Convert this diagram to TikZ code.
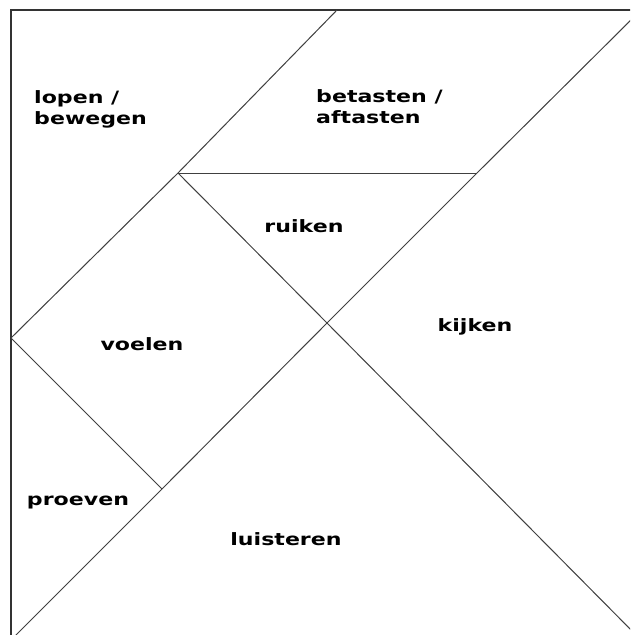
\documentclass[tikz,border=0pt]{standalone}
\usepackage{fontspec}
\usepackage{xcolor}
\usepackage{tikz}
\newfontfamily\blokfont[FakeStretch=1.3]{DejaVu Sans}

\tikzset{
    rand/.style={line width=1.7pt, black!80},
    snede/.style={line width=1pt, black!75},
    zintuig/.style={font=\blokfont\bfseries\fontsize{17}{21}\selectfont, inner sep=0pt, align=left}
}

\begin{document}
\begin{tikzpicture}[x=1pt, y=-1pt]

    % Frame of the picture
    \clip (0,0) rectangle (630,635);
    \fill[white] (0,0) rectangle (630,635);

    % Key points of the square
    \coordinate (lb) at (11,10);     % top left
    \coordinate (rb) at (641,10);    % top right
    \coordinate (lo) at (11,640);    % bottom left
    \coordinate (ro) at (641,640);   % bottom right
    \coordinate (top) at (337,10);
    \coordinate (links) at (11,338);
    \coordinate (kl) at (178,173);
    \coordinate (kr) at (477,173);
    \coordinate (mid) at (327,323);
    \coordinate (knik) at (162,489);

    % Outer edges
    \draw[rand] (lo) -- (lb) -- (rb);

    % Cuts
    \draw[snede] (top) -- (kl) -- (links);
    \draw[snede] (kl) -- (kr);
    \draw[snede] (rb) -- (kr) -- (mid) -- (knik) -- (lo);
    \draw[snede] (kl) -- (mid) -- (ro);
    \draw[snede] (links) -- (knik);

    % Labels
    \node[zintuig, anchor=north west] (lopen) at (34,90) {lopen /\\bewegen};
    \node[zintuig, anchor=north west] (betasten) at (316,89) {betasten /\\aftasten};
    \node[zintuig, anchor=base] (ruiken) at (304,232) {ruiken};
    \node[zintuig, anchor=base] (kijken) at (475,331) {kijken};
    \node[zintuig, anchor=base] (voelen) at (142,350) {voelen};
    \node[zintuig, anchor=base] (proeven) at (78,505) {proeven};
    \node[zintuig, anchor=base] (luisteren) at (286,545) {luisteren};

\end{tikzpicture}
\end{document}
